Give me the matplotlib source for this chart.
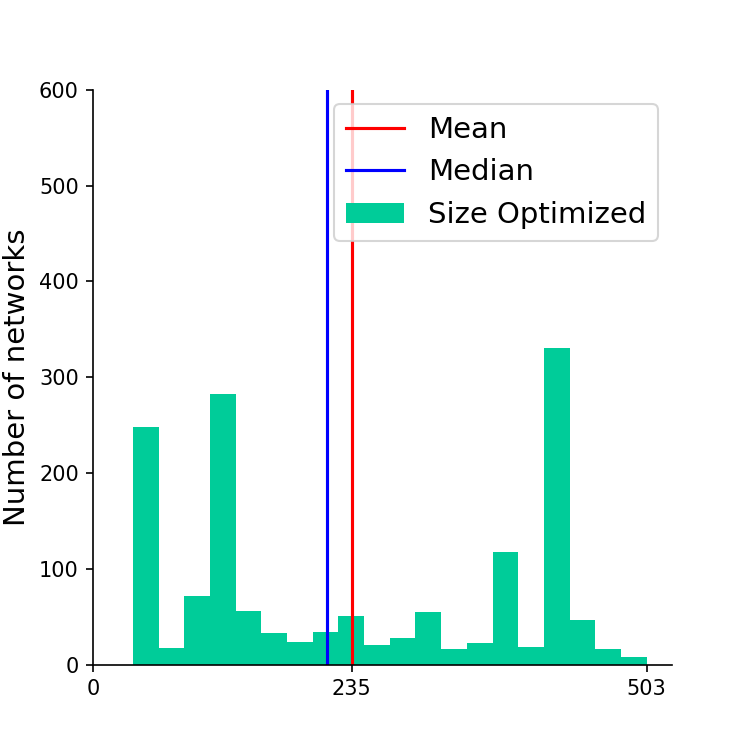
import numpy as np
import matplotlib
matplotlib.use("Agg")
import matplotlib.pyplot as plt

# histogram (20 bins between min and max size)
size_min = 36.0
size_max = 503.0
counts = [248, 18, 72, 283, 56, 33, 24, 34, 51, 21,
          28, 55, 16, 23, 118, 19, 330, 47, 16, 8]
mean_size = 235
median_size = 212.4

edges = np.linspace(size_min, size_max, len(counts) + 1)
centers = (edges[:-1] + edges[1:]) / 2

fig, ax = plt.subplots(figsize=(4.98, 4.98), dpi=150)

ax.axvline(mean_size, color="red", label="Mean")
ax.axvline(median_size, color="blue", label="Median")
ax.hist(centers, bins=edges, weights=counts, color="#00cc99", label="Size Optimized")

ax.set_xlim(left=0)
ax.set_ylim(0, 600)
ax.set_xticks([0, mean_size, int(size_max)])
ax.set_ylabel("Number of networks", fontsize=14)
ax.spines["top"].set_visible(False)
ax.spines["right"].set_visible(False)
ax.legend(fontsize=14, loc="upper right")

plt.savefig("out.png", dpi=150)
